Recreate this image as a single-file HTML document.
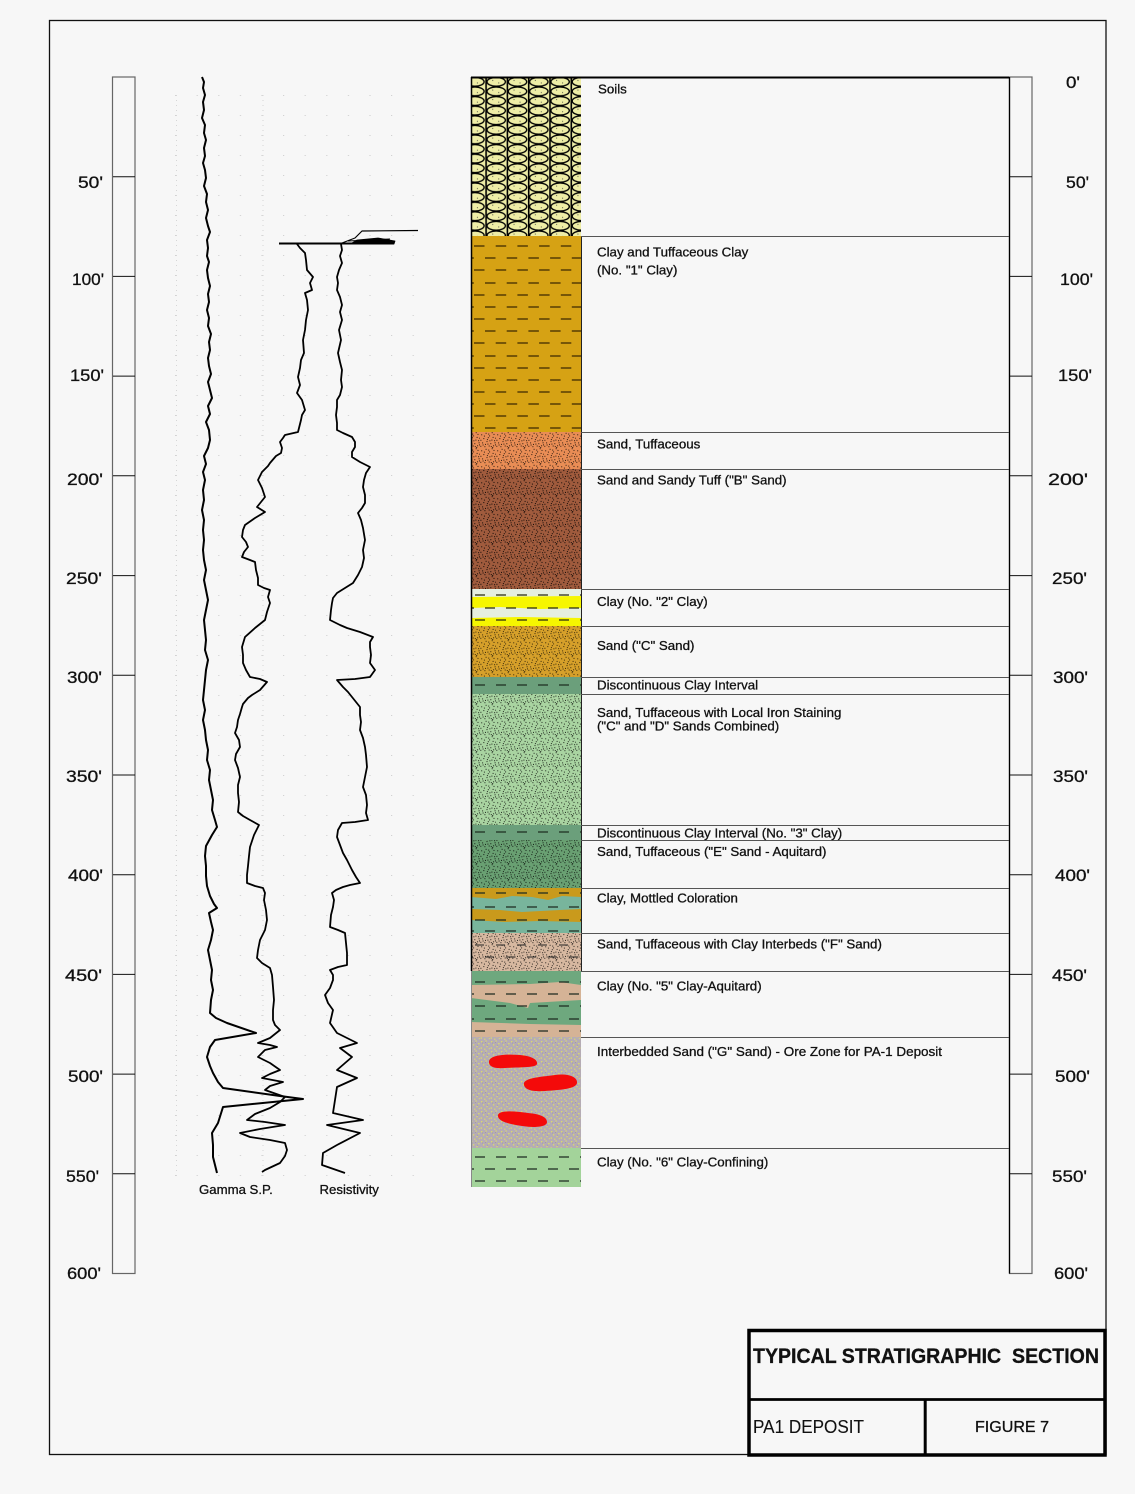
<!DOCTYPE html>
<html><head><meta charset="utf-8"><style>
html,body{margin:0;padding:0;background:#f7f7f7;}
svg{display:block;}
text{font-family:"Liberation Sans",Arial,sans-serif;fill:#111;stroke:#111;stroke-width:0.3;}
</style></head><body>
<svg width="1135" height="1494" viewBox="0 0 1135 1494" xmlns="http://www.w3.org/2000/svg">
<defs>
<pattern id="stip" patternUnits="userSpaceOnUse" width="16" height="16">
<g fill="#000">
<rect x="1.2" y="2.3" width="1" height="1"/><rect x="5.6" y="0.8" width="1" height="1"/><rect x="9.1" y="3.4" width="1" height="1"/><rect x="13.5" y="1.9" width="1" height="1"/>
<rect x="3.3" y="6.1" width="1" height="1"/><rect x="7.8" y="5.2" width="1" height="1"/><rect x="11.4" y="7.6" width="1" height="1"/><rect x="15.2" y="5.7" width="0.8" height="1"/>
<rect x="2.1" y="10.4" width="1" height="1"/><rect x="6.5" y="9.1" width="1" height="1"/><rect x="10.3" y="11.2" width="1" height="1"/><rect x="14.6" y="10.3" width="1" height="1"/>
<rect x="4.4" y="14.2" width="1" height="1"/><rect x="8.7" y="13.5" width="1" height="1"/><rect x="12.2" y="15" width="1" height="1"/><rect x="0.3" y="13.8" width="1" height="1"/>
<rect x="9.4" y="8.3" width="1" height="1"/><rect x="13.1" y="13.3" width="1" height="1"/><rect x="5" y="11.9" width="1" height="1"/>
<rect x="3.9" y="3.6" width="1" height="1"/><rect x="11.7" y="0.2" width="1" height="1"/><rect x="0.4" y="7.8" width="1" height="1"/><rect x="6.9" y="7.1" width="1" height="1"/>
<rect x="14.1" y="8.2" width="1" height="1"/><rect x="12.6" y="4.9" width="1" height="1"/><rect x="7.4" y="11.6" width="1" height="1"/><rect x="2.6" y="12.5" width="1" height="1"/>
<rect x="10.8" y="14.1" width="1" height="1"/><rect x="15" y="12.4" width="1" height="1"/><rect x="8.2" y="1.6" width="1" height="1"/>
</g>
</pattern>
<pattern id="speck" patternUnits="userSpaceOnUse" width="10" height="10">
<g fill="#dede66">
<rect x="1" y="1" width="1.3" height="1.3"/><rect x="5.5" y="0.4" width="1.2" height="1.2"/><rect x="8.2" y="3" width="1.3" height="1.3"/><rect x="3" y="4.2" width="1.3" height="1.3"/>
<rect x="6.4" y="6" width="1.2" height="1.2"/><rect x="0.6" y="7.4" width="1.3" height="1.3"/><rect x="4.2" y="8.6" width="1.2" height="1.2"/><rect x="8.8" y="8.2" width="1" height="1"/>
</g>
<g fill="#9a90a0"><rect x="2.2" y="2.6" width="0.8" height="0.8"/><rect x="7.3" y="4.8" width="0.8" height="0.8"/><rect x="5" y="2.2" width="0.8" height="0.8"/></g>
</pattern>
<pattern id="soil" patternUnits="userSpaceOnUse" x="464" y="77" width="21.3" height="9.6">
<rect width="21.3" height="9.6" fill="#eeeda6"/>
<rect x="7" y="3" width="0.9" height="0.9" fill="#333"/><rect x="13" y="5.5" width="0.9" height="0.9" fill="#333"/>
<ellipse cx="10.9" cy="4.8" rx="9.2" ry="4.4" fill="none" stroke="#000" stroke-width="1.4"/>
<line x1="0.8" y1="0" x2="0.8" y2="9.6" stroke="#000" stroke-width="1.6"/>
</pattern>
<pattern id="dots" patternUnits="userSpaceOnUse" x="175" y="95" width="21.6" height="20">
<rect x="0" y="0" width="1.2" height="1" fill="#d2d2d2"/>
</pattern>
</defs>

<!-- page border -->
<rect x="49.5" y="20.5" width="1056.5" height="1434" fill="none" stroke="#111" stroke-width="1.3"/>

<!-- grid dots -->
<rect x="175" y="95" width="242" height="1083" fill="url(#dots)"/>
<line x1="176.5" y1="95" x2="176.5" y2="1178" stroke="#d6d6d6" stroke-width="1" stroke-dasharray="1 4"/>
<line x1="263" y1="95" x2="263" y2="1178" stroke="#d6d6d6" stroke-width="1" stroke-dasharray="1 4"/>

<!-- left scale bar -->
<rect x="112.5" y="77" width="22.5" height="1196.5" fill="none" stroke="#666" stroke-width="1.2"/>
<g stroke="#111" stroke-width="1">
<line x1="113" x2="135" y1="176.7" y2="176.7"/><line x1="113" x2="135" y1="276.4" y2="276.4"/><line x1="113" x2="135" y1="376.1" y2="376.1"/>
<line x1="113" x2="135" y1="475.8" y2="475.8"/><line x1="113" x2="135" y1="575.6" y2="575.6"/><line x1="113" x2="135" y1="675.3" y2="675.3"/>
<line x1="113" x2="135" y1="775" y2="775"/><line x1="113" x2="135" y1="874.7" y2="874.7"/><line x1="113" x2="135" y1="974.4" y2="974.4"/>
<line x1="113" x2="135" y1="1074.1" y2="1074.1"/><line x1="113" x2="135" y1="1173.8" y2="1173.8"/>
</g>
<g font-size="17" text-anchor="end" style="stroke-width:0.45">
<text x="103" y="188" textLength="25" lengthAdjust="spacingAndGlyphs">50'</text>
<text x="104" y="285" textLength="32" lengthAdjust="spacingAndGlyphs">100'</text>
<text x="104" y="381" textLength="34" lengthAdjust="spacingAndGlyphs">150'</text>
<text x="103" y="485" textLength="36" lengthAdjust="spacingAndGlyphs">200'</text>
<text x="102" y="584" textLength="36" lengthAdjust="spacingAndGlyphs">250'</text>
<text x="102" y="683" textLength="35" lengthAdjust="spacingAndGlyphs">300'</text>
<text x="102" y="782" textLength="36" lengthAdjust="spacingAndGlyphs">350'</text>
<text x="103" y="881" textLength="35" lengthAdjust="spacingAndGlyphs">400'</text>
<text x="102" y="981" textLength="37" lengthAdjust="spacingAndGlyphs">450'</text>
<text x="103" y="1082" textLength="35" lengthAdjust="spacingAndGlyphs">500'</text>
<text x="99" y="1182" textLength="33" lengthAdjust="spacingAndGlyphs">550'</text>
<text x="101" y="1279" textLength="34" lengthAdjust="spacingAndGlyphs">600'</text>
</g>

<!-- right scale bar -->
<rect x="1009.5" y="77" width="22.5" height="1196.5" fill="none" stroke="#666" stroke-width="1.2"/>
<line x1="1009.5" y1="77" x2="1009.5" y2="1273.5" stroke="#000" stroke-width="1.3"/>
<g stroke="#111" stroke-width="1">
<line x1="1010" x2="1032" y1="176.7" y2="176.7"/><line x1="1010" x2="1032" y1="276.4" y2="276.4"/><line x1="1010" x2="1032" y1="376.1" y2="376.1"/>
<line x1="1010" x2="1032" y1="475.8" y2="475.8"/><line x1="1010" x2="1032" y1="575.6" y2="575.6"/><line x1="1010" x2="1032" y1="675.3" y2="675.3"/>
<line x1="1010" x2="1032" y1="775" y2="775"/><line x1="1010" x2="1032" y1="874.7" y2="874.7"/><line x1="1010" x2="1032" y1="974.4" y2="974.4"/>
<line x1="1010" x2="1032" y1="1074.1" y2="1074.1"/><line x1="1010" x2="1032" y1="1173.8" y2="1173.8"/>
</g>
<g font-size="17" style="stroke-width:0.45">
<text x="1066" y="88" textLength="14" lengthAdjust="spacingAndGlyphs">0'</text>
<text x="1066" y="188" textLength="23" lengthAdjust="spacingAndGlyphs">50'</text>
<text x="1060" y="285" textLength="33" lengthAdjust="spacingAndGlyphs">100'</text>
<text x="1058" y="381" textLength="34" lengthAdjust="spacingAndGlyphs">150'</text>
<text x="1048" y="485" textLength="40" lengthAdjust="spacingAndGlyphs">200'</text>
<text x="1052" y="584" textLength="35" lengthAdjust="spacingAndGlyphs">250'</text>
<text x="1053" y="683" textLength="35" lengthAdjust="spacingAndGlyphs">300'</text>
<text x="1053" y="782" textLength="35" lengthAdjust="spacingAndGlyphs">350'</text>
<text x="1055" y="881" textLength="35" lengthAdjust="spacingAndGlyphs">400'</text>
<text x="1052" y="981" textLength="35" lengthAdjust="spacingAndGlyphs">450'</text>
<text x="1055" y="1082" textLength="35" lengthAdjust="spacingAndGlyphs">500'</text>
<text x="1052" y="1182" textLength="35" lengthAdjust="spacingAndGlyphs">550'</text>
<text x="1054" y="1279" textLength="34" lengthAdjust="spacingAndGlyphs">600'</text>
</g>

<!-- ===== lithology column ===== -->
<rect x="471" y="77" width="110" height="159" fill="url(#soil)"/>
<rect x="471" y="236" width="110" height="196" fill="#d6a214"/>
<g stroke="#3d2a00" stroke-width="1.3" stroke-dasharray="10.5 11.2">
<line x1="471" x2="581" y1="246" y2="246" stroke-dashoffset="-3"/>
<line x1="471" x2="581" y1="258" y2="258" stroke-dashoffset="-14"/>
<line x1="471" x2="581" y1="270" y2="270" stroke-dashoffset="-3"/>
<line x1="471" x2="581" y1="283" y2="283" stroke-dashoffset="-14"/>
<line x1="471" x2="581" y1="295" y2="295" stroke-dashoffset="-3"/>
<line x1="471" x2="581" y1="307" y2="307" stroke-dashoffset="-14"/>
<line x1="471" x2="581" y1="319" y2="319" stroke-dashoffset="-3"/>
<line x1="471" x2="581" y1="331" y2="331" stroke-dashoffset="-14"/>
<line x1="471" x2="581" y1="343" y2="343" stroke-dashoffset="-3"/>
<line x1="471" x2="581" y1="356" y2="356" stroke-dashoffset="-14"/>
<line x1="471" x2="581" y1="368" y2="368" stroke-dashoffset="-3"/>
<line x1="471" x2="581" y1="380" y2="380" stroke-dashoffset="-14"/>
<line x1="471" x2="581" y1="392" y2="392" stroke-dashoffset="-3"/>
<line x1="471" x2="581" y1="404" y2="404" stroke-dashoffset="-14"/>
<line x1="471" x2="581" y1="416" y2="416" stroke-dashoffset="-3"/>
<line x1="471" x2="581" y1="428" y2="428" stroke-dashoffset="-14"/>
</g>
<rect x="471" y="432" width="110" height="37" fill="#e98d55"/>
<rect x="471" y="432" width="110" height="37" fill="url(#stip)" opacity="0.8"/>
<rect x="471" y="469" width="110" height="120" fill="#a05b3d"/>
<rect x="471" y="469" width="110" height="120" fill="url(#stip)" opacity="0.9"/>
<rect x="471" y="589" width="110" height="37" fill="#e6efe0"/>
<path d="M471,597 L581,596 L581,608 L540,609 L500,607 L471,608 Z" fill="#f6f600"/>
<path d="M471,618 L520,617 L581,618 L581,626 L471,626 Z" fill="#f6f600"/>
<g stroke="#2a2a10" stroke-width="1.2" stroke-dasharray="10 11">
<line x1="471" x2="581" y1="595" y2="595" stroke-dashoffset="-4"/>
<line x1="471" x2="581" y1="608" y2="608" stroke-dashoffset="-14"/>
<line x1="471" x2="581" y1="620" y2="620" stroke-dashoffset="-4"/>
</g>
<rect x="471" y="626" width="110" height="51" fill="#d6a02a"/>
<rect x="471" y="626" width="110" height="51" fill="url(#stip)" opacity="0.75"/>
<rect x="471" y="677" width="110" height="17" fill="#6b9f7b"/>
<line x1="471" x2="581" y1="685" y2="685" stroke="#1d2d20" stroke-width="1.2" stroke-dasharray="10 11" stroke-dashoffset="-4"/>
<rect x="471" y="694" width="110" height="131" fill="#a9d4a1"/>
<rect x="471" y="694" width="110" height="131" fill="url(#stip)" opacity="0.8"/>
<rect x="471" y="825" width="110" height="15" fill="#6b9f7b"/>
<line x1="471" x2="581" y1="832" y2="832" stroke="#1d2d20" stroke-width="1.2" stroke-dasharray="10 11" stroke-dashoffset="-4"/>
<rect x="471" y="840" width="110" height="48" fill="#69a072"/>
<rect x="471" y="840" width="110" height="48" fill="url(#stip)" opacity="0.8"/>
<rect x="471" y="888" width="110" height="45" fill="#78b59c"/>
<path d="M471,888 L581,888 L581,897 L562,896 L548,900 L532,897 L512,896 L496,899 L471,897 Z" fill="#c99a1c"/>
<path d="M471,909 L500,910 L522,912 L560,910 L581,909 L581,922 L540,921 L505,922 L471,920 Z" fill="#c99a1c"/>
<g stroke="#1d2a20" stroke-width="1.2" stroke-dasharray="10 11">
<line x1="471" x2="581" y1="893" y2="893" stroke-dashoffset="-4"/>
<line x1="471" x2="581" y1="907" y2="907" stroke-dashoffset="-14"/>
<line x1="471" x2="581" y1="920" y2="920" stroke-dashoffset="-4"/>
<line x1="471" x2="581" y1="931" y2="931" stroke-dashoffset="-14"/>
</g>
<rect x="471" y="933" width="110" height="38" fill="#d7b8a0"/>
<rect x="471" y="933" width="110" height="38" fill="url(#stip)" opacity="0.8"/>
<g stroke="#222" stroke-width="1.1" stroke-dasharray="9 12">
<line x1="471" x2="581" y1="945" y2="945" stroke-dashoffset="-4"/>
<line x1="471" x2="581" y1="957" y2="957" stroke-dashoffset="-14"/>
</g>
<rect x="471" y="971" width="110" height="66" fill="#6ea87e"/>
<path d="M471,985 L530,984 L560,982 L581,985 L581,1000 L530,1003 L528,1008 L510,1003 L471,998 Z" fill="#d5b396"/>
<path d="M471,1022 L530,1024 L581,1025 L581,1037 L471,1037 Z" fill="#d5b396"/>
<g stroke="#1d2a20" stroke-width="1.2" stroke-dasharray="10 11">
<line x1="471" x2="581" y1="982" y2="982" stroke-dashoffset="-4"/>
<line x1="471" x2="581" y1="994" y2="994" stroke-dashoffset="-14"/>
<line x1="471" x2="581" y1="1006" y2="1006" stroke-dashoffset="-4"/>
<line x1="471" x2="581" y1="1019" y2="1019" stroke-dashoffset="-14"/>
<line x1="471" x2="581" y1="1031" y2="1031" stroke-dashoffset="-4"/>
</g>
<rect x="471" y="1037" width="110" height="111" fill="#b5acb5"/>
<rect x="471" y="1037" width="110" height="111" fill="url(#speck)"/>
<g fill="#f40a0a">
<path d="M489,1062 C489,1055 505,1054 520,1055 C532,1056 538,1060 537,1064 C536,1068 520,1067 505,1068 C493,1069 489,1066 489,1062 Z"/>
<path d="M524,1085 C522,1078 540,1077 555,1075 C568,1073 578,1077 577,1083 C576,1089 560,1090 545,1091 C530,1092 525,1089 524,1085 Z"/>
<path d="M498,1115 C499,1110 515,1111 528,1113 C540,1114 547,1117 547,1122 C547,1127 535,1128 522,1126 C508,1124 497,1121 498,1115 Z"/>
</g>
<rect x="471" y="1148" width="110" height="39" fill="#a3d39a"/>
<g stroke="#1d2a20" stroke-width="1.2" stroke-dasharray="10 11">
<line x1="471" x2="581" y1="1157" y2="1157" stroke-dashoffset="-4"/>
<line x1="471" x2="581" y1="1169" y2="1169" stroke-dashoffset="-14"/>
<line x1="471" x2="581" y1="1181" y2="1181" stroke-dashoffset="-4"/>
</g>

<line x1="471.5" y1="77" x2="471.5" y2="971" stroke="#000" stroke-width="1.5"/>
<line x1="471.5" y1="971" x2="471.5" y2="1187" stroke="#888" stroke-width="1"/>
<line x1="581.5" y1="236" x2="581.5" y2="971" stroke="#222" stroke-width="1"/>
<line x1="471" y1="77.5" x2="1009" y2="77.5" stroke="#000" stroke-width="2"/>

<g stroke="#555" stroke-width="1">
<line x1="581" x2="1009" y1="236.5" y2="236.5"/>
<line x1="581" x2="1009" y1="432.5" y2="432.5"/>
<line x1="581" x2="1009" y1="469.5" y2="469.5"/>
<line x1="581" x2="1009" y1="589.5" y2="589.5"/>
<line x1="581" x2="1009" y1="626.5" y2="626.5"/>
<line x1="581" x2="1009" y1="677.5" y2="677.5"/>
<line x1="581" x2="1009" y1="694.5" y2="694.5"/>
<line x1="581" x2="1009" y1="825.5" y2="825.5"/>
<line x1="581" x2="1009" y1="840.5" y2="840.5"/>
<line x1="581" x2="1009" y1="888.5" y2="888.5"/>
<line x1="581" x2="1009" y1="933.5" y2="933.5"/>
<line x1="581" x2="1009" y1="971.5" y2="971.5"/>
<line x1="581" x2="1009" y1="1037.5" y2="1037.5"/>
<line x1="581" x2="1009" y1="1148.5" y2="1148.5"/>
</g>

<g font-size="13.3">
<text x="598" y="93.5">Soils</text>
<text x="597" y="256.5">Clay and Tuffaceous Clay</text>
<text x="597" y="274.5">(No. "1" Clay)</text>
<text x="597" y="448.5">Sand, Tuffaceous</text>
<text x="597" y="484.5">Sand and Sandy Tuff ("B" Sand)</text>
<text x="597" y="606">Clay (No. "2" Clay)</text>
<text x="597" y="650">Sand ("C" Sand)</text>
<text x="597" y="689.5">Discontinuous Clay Interval</text>
<text x="597" y="717">Sand, Tuffaceous with Local Iron Staining</text>
<text x="597" y="730.5">("C" and "D" Sands Combined)</text>
<text x="597" y="837.5">Discontinuous Clay Interval (No. "3" Clay)</text>
<text x="597" y="856">Sand, Tuffaceous ("E" Sand - Aquitard)</text>
<text x="597" y="902.5">Clay, Mottled Coloration</text>
<text x="597" y="948.5">Sand, Tuffaceous with Clay Interbeds ("F" Sand)</text>
<text x="597" y="990.5">Clay (No. "5" Clay-Aquitard)</text>
<text x="597" y="1056" textLength="345" lengthAdjust="spacingAndGlyphs">Interbedded Sand ("G" Sand) - Ore Zone for PA-1 Deposit</text>
<text x="597" y="1166.5">Clay (No. "6" Clay-Confining)</text>
</g>

<g fill="none" stroke="#000" stroke-linejoin="round">
<polyline stroke-width="2" points="202,77 204,82 203,88 205,95 203,102 204,110 202,118 205,125 204,133 206,140 204,148 205,156 203,163 205,170 206,178 204,186 207,194 206,202 208,210 206,218 208,226 210,232 207,240 208,248 207,256 209,262 207,270 208,278 210,286 208,294 209,302 207,310 209,318 208,326 211,334 209,342 210,350 208,358 209,366 211,374 208,382 210,390 212,398 208,406 210,414 206,422 209,430 210,440 208,448 204,456 206,464 203,472 205,480 203,490 204,500 202,510 204,520 203,530 204,540 203,550 204,560 206,570 204,580 206,590 208,600 206,610 204,620 205,630 206,640 205,650 208,660 206,670 205,680 204,690 203,700 205,710 203,720 205,730 206,740 208,750 207,760 210,770 209,780 211,790 213,800 212,810 215,820 217,827 212,835 206,846 205,856 206,866 206,876 207,886 210,896 214,904 217,908 209,913 211,922 213,930 211,940 208,950 210,960 212,970 211,980 213,990 211,1000 210,1013 216,1018 227,1023 256,1033 215,1040 210,1047 207,1057 210,1066 213,1073 218,1082 223,1088 280,1096 303,1099 223,1107 218,1123 212,1133 213,1145 213,1157 215,1165 217,1173"/>
<line x1="279" y1="243.5" x2="394" y2="243.5" stroke-width="2"/>
<polyline stroke-width="1.2" points="342,243 355,238 362,231 418,230.5"/>
<polyline stroke-width="1" points="348,241 390,239"/>
<polygon fill="#000" stroke-width="0.8" points="357,240 378,238 395,241 394,244 352,243"/>
<polyline stroke-width="1.8" points="297,244 300,248 305,253 306,260 307,270 313,277 310,283 312,290 305,293 307,300 308,310 306,320 305,330 303,340 304,353 301,360 300,368 298,377 300,385 297,393 302,400 305,410 302,415 301,420 298,432 285,435 283,438 280,442 282,448 281,453 276,456 270,463 268,466 262,472 258,480 262,488 265,497 261,502 257,507 265,512 255,518 245,525 243,530 242,537 246,542 248,547 244,552 242,557 250,560 255,562 256,570 258,578 258,585 264,588 270,590 268,597 270,603 267,612 265,620 255,628 245,637 242,647 243,655 243,663 246,670 250,677 260,679 267,682 260,690 252,695 248,698 243,704 242,707 240,714 238,720 237,727 235,733 239,740 240,747 236,754 235,760 238,768 240,777 238,785 238,793 239,802 238,812 243,816 250,820 259,825 254,835 250,847 249,856 248,866 247,875 247,883 255,886 263,888 265,893 264,900 266,910 267,920 265,930 260,940 258,950 257,958 262,963 270,968 272,975 273,987 274,1000 273,1010 273,1020 275,1025 280,1030 270,1038 258,1043 270,1045 277,1047 265,1050 258,1057 270,1063 280,1070 270,1074 262,1078 283,1082 270,1086 265,1090 285,1097 280,1102 270,1108 255,1114 247,1120 265,1122 285,1125 260,1129 240,1133 250,1137 270,1140 285,1143 287,1150 285,1156 280,1163 265,1170 262,1172"/>
<polyline stroke-width="1.8" points="341,244 342,250 340,256 342,263 339,270 337,277 338,283 337,290 340,297 342,305 340,312 342,320 339,330 341,340 338,353 340,362 342,370 341,380 342,387 340,395 337,400 337,407 336,415 337,423 337,430 343,433 352,437 355,442 355,447 352,452 352,457 360,462 370,467 366,473 364,480 363,487 365,495 365,503 362,508 358,513 361,520 363,528 365,540 363,550 364,558 362,567 358,575 353,583 345,588 337,593 333,598 332,603 331,610 330,620 340,625 347,628 360,632 373,637 370,642 370,647 371,655 370,663 375,670 370,677 355,679 337,680 343,687 348,692 352,697 356,702 360,707 360,715 361,722 360,730 363,738 365,747 366,755 367,767 365,777 363,787 366,795 367,805 366,813 368,820 355,822 342,823 338,830 337,837 340,845 343,853 347,860 352,870 356,877 360,883 350,885 343,887 336,890 332,893 334,900 333,907 331,915 330,927 338,930 345,933 346,943 347,953 347,965 338,967 330,970 333,975 333,980 330,988 325,995 328,1003 333,1010 330,1023 337,1033 357,1043 340,1048 352,1057 337,1070 357,1078 337,1087 335,1100 333,1113 363,1120 327,1125 360,1133 337,1145 323,1153 322,1165 345,1173"/>
</g>
<text x="199" y="1194" font-size="13.2">Gamma S.P.</text>
<text x="319.5" y="1194" font-size="13.2">Resistivity</text>

<rect x="749" y="1330.5" width="356" height="124.5" fill="#f7f7f7" stroke="#000" stroke-width="3.5"/>
<line x1="749" y1="1399.5" x2="1105" y2="1399.5" stroke="#000" stroke-width="2.8"/>
<line x1="925.2" y1="1399.5" x2="925.2" y2="1455" stroke="#000" stroke-width="3"/>
<text x="753" y="1363" font-size="21" font-weight="bold" textLength="346" lengthAdjust="spacingAndGlyphs">TYPICAL STRATIGRAPHIC&#160; SECTION</text>
<text x="753" y="1433" font-size="18.5" textLength="111" lengthAdjust="spacingAndGlyphs" style="stroke-width:0.1">PA1 DEPOSIT</text>
<text x="975" y="1432" font-size="16" textLength="74" lengthAdjust="spacingAndGlyphs">FIGURE 7</text>
</svg>
</body></html>
